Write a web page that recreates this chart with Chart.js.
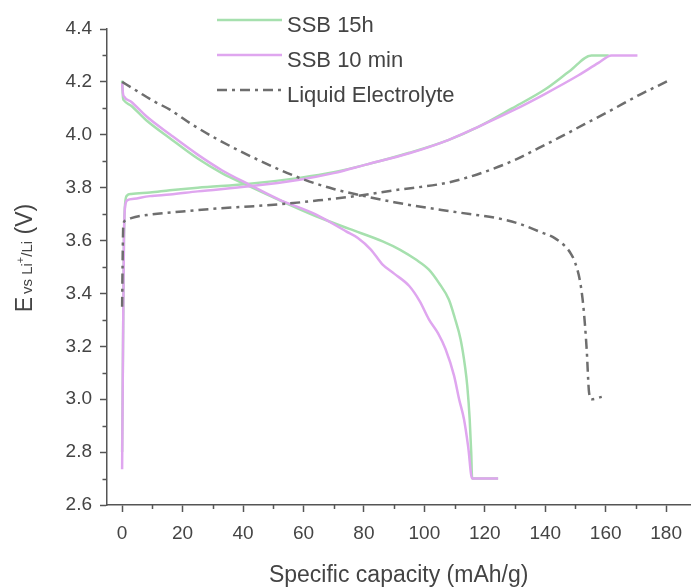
<!DOCTYPE html>
<html><head><meta charset="utf-8">
<script src="https://cdn.jsdelivr.net/npm/chart.js@4/dist/chart.umd.min.js"></script>
<style>html,body{margin:0;padding:0;background:#fff;overflow:hidden}</style>
</head><body>
<canvas id="c" width="692" height="588"></canvas>
<script>
// ---- data (capacity mAh/g, voltage V) ----
const seriesNames = ["SSB 15h", "SSB 10 min", "Liquid Electrolyte"];

const ssb15hChargeCap = [0, 0.3, 0.6, 1.0, 1.6, 3, 9.2, 15.8, 25, 42.2, 58.7, 70, 80.7, 95, 108.1, 118, 129, 140, 148, 155.3, 161];
const ssb15hChargeV   = [2.8, 3.2, 3.6, 3.74, 3.77, 3.776, 3.782, 3.79, 3.80, 3.815, 3.837, 3.858, 3.887, 3.932, 3.981, 4.031, 4.10, 4.172, 4.24, 4.30, 4.30];
const ssb15hDisCap = [0, 0.3, 0.6, 3, 8, 15.8, 25, 33, 42.2, 52, 64.2, 75.2, 86.2, 92, 97.2, 101.5, 104.8, 108.1, 110, 112, 113.5, 114.2, 115, 115.5, 115.8, 124.4];
const ssb15hDisV   = [4.205, 4.14, 4.13, 4.11, 4.055, 3.987, 3.91, 3.855, 3.805, 3.753, 3.692, 3.644, 3.597, 3.565, 3.528, 3.49, 3.44, 3.377, 3.31, 3.226, 3.12, 3.05, 2.925, 2.80, 2.70, 2.70];

const ssb10mChargeCap = [0, 0.3, 0.6, 1.0, 1.8, 4, 9.2, 15.8, 25, 42.2, 58.7, 70, 80.7, 95, 108.1, 118, 129, 140, 151, 157.6, 161.9, 170.5];
const ssb10mChargeV   = [2.735, 3.2, 3.6, 3.73, 3.753, 3.758, 3.768, 3.774, 3.786, 3.805, 3.83, 3.855, 3.887, 3.93, 3.981, 4.031, 4.09, 4.155, 4.225, 4.272, 4.30, 4.30];
const ssb10mDisCap = [0, 0.3, 0.6, 3, 8, 16, 25, 33, 42.2, 52, 64.2, 74.1, 78, 82.3, 86.2, 90, 95, 98.5, 101.5, 104.5, 107, 109.8, 111.5, 113.1, 114.5, 115.8, 124.4];
const ssb10mDisV   = [4.195, 4.155, 4.145, 4.125, 4.07, 4.0, 3.925, 3.866, 3.811, 3.755, 3.698, 3.635, 3.61, 3.566, 3.509, 3.475, 3.428, 3.37, 3.302, 3.25, 3.19, 3.09, 3.0, 2.925, 2.82, 2.70, 2.70];

const liquidChargeCap = [0, 0.2, 0.4, 1, 3, 9.2, 20, 30, 42.2, 55, 65, 75.2, 90, 108.1, 120, 130, 137, 144.4, 153, 162, 171, 180.7];
const liquidChargeV   = [3.35, 3.55, 3.66, 3.675, 3.685, 3.698, 3.71, 3.72, 3.729, 3.74, 3.752, 3.765, 3.79, 3.82, 3.86, 3.905, 3.945, 3.988, 4.04, 4.094, 4.15, 4.204];
const liquidDisCap = [0, 5, 10, 15.8, 23, 31.2, 45, 58.7, 70, 80.7, 90, 101.5, 108, 115, 123.5, 131, 137.8, 143, 146.6, 148.5, 149.9, 151.6, 152.7, 153.7, 154.5, 155.4, 158.7];
const liquidDisV   = [4.20, 4.165, 4.13, 4.095, 4.04, 3.985, 3.905, 3.837, 3.795, 3.767, 3.745, 3.723, 3.712, 3.70, 3.686, 3.665, 3.635, 3.61, 3.578, 3.55, 3.516, 3.44, 3.34, 3.19, 3.025, 3.0, 3.009];

const xTickValues = [0, 20, 40, 60, 80, 100, 120, 140, 160, 180];
const xMinorTicks = [10, 30, 50, 70, 90, 110, 130, 150, 170];
const yTickValues = [2.6, 2.8, 3.0, 3.2, 3.4, 3.6, 3.8, 4.0, 4.2, 4.4];
const yMinorTicks = [2.7, 2.9, 3.1, 3.3, 3.5, 3.7, 3.9, 4.1, 4.3];

// ---- styles ----
const FONT = "'Liberation Sans', Arial, sans-serif";
const GREEN = '#a6e0ae', PURPLE = '#dfa6ef', GRAY = '#6e6e6e';
const AXIS = '#555555', TXT = '#444444';
const DASH = [10, 5, 3, 5];

const pts = (xs, ys) => xs.map((x, i) => ({x: x, y: ys[i]}));
function ds(data, color, dash) {
  return {data: data, borderColor: color, backgroundColor: color, borderWidth: 2.5,
    borderDash: dash || [], pointRadius: 0, showLine: true, cubicInterpolationMode: 'monotone', fill: false};
}
const datasets = [
  ds(pts(liquidDisCap, liquidDisV), GRAY, DASH),
  ds(pts(liquidChargeCap, liquidChargeV), GRAY, DASH),
  ds(pts(ssb10mDisCap, ssb10mDisV), PURPLE),
  ds(pts(ssb10mChargeCap, ssb10mChargeV), PURPLE),
  ds(pts(ssb15hDisCap, ssb15hDisV), GREEN),
  ds(pts(ssb15hChargeCap, ssb15hChargeV), GREEN)
];

const extras = {
  id: 'extras',
  afterDraw(chart) {
    const ctx = chart.ctx, xs = chart.scales.x, ys = chart.scales.y;
    ctx.save();
    // minor ticks
    ctx.strokeStyle = AXIS; ctx.lineWidth = 1.5;
    ctx.beginPath();
    xMinorTicks.forEach(v => { const p = Math.round(xs.getPixelForValue(v)) + 0.5; ctx.moveTo(p, xs.top); ctx.lineTo(p, xs.top + 4); });
    yMinorTicks.forEach(v => { const p = Math.round(ys.getPixelForValue(v)) + 0.5; ctx.moveTo(ys.right, p); ctx.lineTo(ys.right - 4.5, p); });
    ctx.stroke();

    // legend
    const legendItems = [[seriesNames[0], GREEN, []], [seriesNames[1], PURPLE, []], [seriesNames[2], GRAY, DASH]];
    legendItems.forEach((it, i) => {
      const ly = 20 + i * 35;
      ctx.strokeStyle = it[1]; ctx.lineWidth = 2.5; ctx.setLineDash(it[2]);
      ctx.beginPath(); ctx.moveTo(217, ly); ctx.lineTo(282, ly); ctx.stroke();
      ctx.setLineDash([]);
      ctx.fillStyle = TXT; ctx.font = '22px ' + FONT; ctx.textBaseline = 'alphabetic'; ctx.textAlign = 'left';
      ctx.fillText(it[0], 287, ly + 11.7);
    });

    // x title
    ctx.fillStyle = TXT; ctx.font = '23px ' + FONT; ctx.textAlign = 'center'; ctx.textBaseline = 'alphabetic';
    ctx.fillText('Specific capacity (mAh/g)', (xs.left + xs.right) / 2, 582);

    // y title with subscript
    const parts = [
      ['E', 23, 0], [' ', 10, 0], ['vs Li', 15, 0], ['+', 11, -8], ['/Li', 15, 0], [' (V)', 23, 0]
    ];
    ctx.textAlign = 'left';
    let total = 0;
    parts.forEach(p => { ctx.font = p[1] + 'px ' + FONT; p.push(ctx.measureText(p[0]).width); total += p[3]; });
    ctx.translate(31.5, 258);
    ctx.rotate(-Math.PI / 2);
    let cx = -total / 2;
    parts.forEach(p => { ctx.font = p[1] + 'px ' + FONT; ctx.fillText(p[0], cx, p[2]); cx += p[3]; });
    ctx.restore();
  }
};

new Chart(document.getElementById('c'), {
  type: 'scatter',
  data: {datasets: datasets},
  options: {
    responsive: false, animation: false, devicePixelRatio: 1,
    layout: {padding: {top: 29, right: 0, left: 0, bottom: 0}},
    plugins: {legend: {display: false}, tooltip: {enabled: false}},
    scales: {
      x: {
        type: 'linear', position: 'bottom', min: -5, max: 188,
        afterBuildTicks: s => { s.ticks = xTickValues.map(v => ({value: v})); },
        afterFit: s => { s.height = 83; },
        grid: {display: true, drawOnChartArea: false, drawTicks: true, tickLength: 7, tickWidth: 1.5, color: AXIS, tickColor: AXIS},
        border: {display: true, color: AXIS, width: 1.5},
        ticks: {font: {family: FONT, size: 19}, color: TXT, padding: 10, maxRotation: 0, autoSkip: false,
          callback: v => String(v)}
      },
      y: {
        type: 'linear', position: 'left', min: 2.6, max: 4.4,
        afterBuildTicks: s => { s.ticks = yTickValues.map(v => ({value: v})); },
        afterFit: s => { s.width = 107; },
        grid: {display: true, drawOnChartArea: false, drawTicks: true, tickLength: 7, tickWidth: 1.5, color: AXIS, tickColor: AXIS},
        border: {display: true, color: AXIS, width: 1.5},
        ticks: {font: {family: FONT, size: 19}, color: TXT, padding: 8, autoSkip: false,
          callback: v => Number(v).toFixed(1)}
      }
    }
  },
  plugins: [extras]
});
</script>
</body></html>
